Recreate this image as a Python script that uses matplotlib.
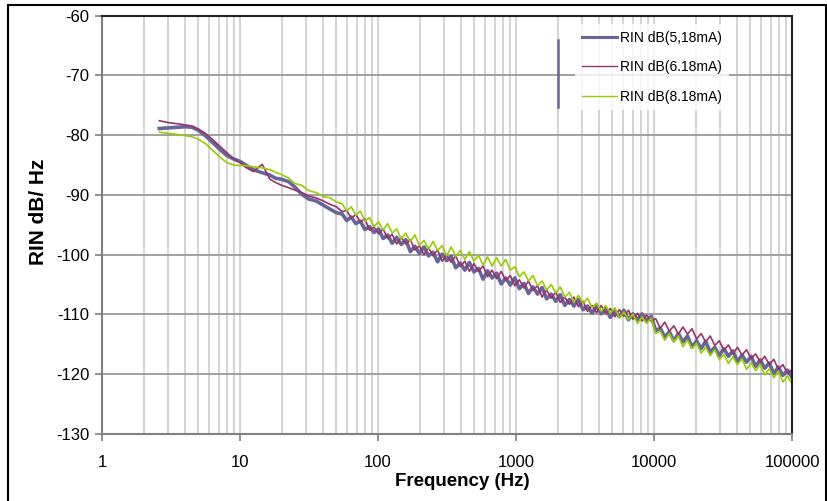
import numpy as np
import matplotlib
matplotlib.use("Agg")
import matplotlib.pyplot as plt
from matplotlib.lines import Line2D
from matplotlib.patches import Rectangle
from matplotlib.ticker import FixedLocator, LogLocator, NullFormatter

plt.rcParams['font.family'] = ['Liberation Sans', 'DejaVu Sans']

# --- data ---
# smooth low-frequency part (Hz)
freq_low = [2.6, 3.0, 3.5, 4.0, 4.5, 5.0, 5.6, 6.3, 7.0, 8.0, 9.0, 10, 11, 12.5,
            14.5, 16.5, 18, 20, 22.5, 25, 28, 31.5, 35.5, 40, 45, 50]
rin_518_low = [-78.9, -78.8, -78.7, -78.6, -78.7, -79.2, -80.1, -81.2, -82.2, -83.4,
               -84.0, -84.4, -85.0, -85.8, -86.3, -86.7, -87.2, -87.4, -87.8, -88.7,
               -89.9, -90.7, -91.0, -91.7, -92.4, -93.0]
rin_618_low = [-77.6, -77.9, -78.1, -78.3, -78.5, -79.0, -79.7, -80.7, -81.7, -82.9,
               -84.0, -84.6, -85.4, -86.1, -84.9, -87.4, -87.9, -88.4, -88.8, -89.2,
               -89.6, -90.2, -90.5, -91.0, -91.6, -92.0]
rin_818_low = [-79.5, -79.7, -79.9, -80.1, -80.3, -80.7, -81.4, -82.5, -83.5, -84.6,
               -85.0, -85.1, -85.1, -85.3, -85.5, -85.8, -86.2, -86.6, -87.2, -88.1,
               -88.4, -89.3, -89.6, -90.3, -90.5, -91.2]

# noisy part, sampled on a log grid from 55 Hz to 100 kHz
freq_high = np.logspace(np.log10(55), 5, 100)
rin_518_high = [
    -93.2, -94.3, -93.7, -94.8, -94.4, -95.8, -95.3, -96.3, -95.7, -97.3,
    -96.7, -98.1, -97.1, -98.3, -97.5, -99.5, -98.6, -99.8, -98.7, -100.2,
    -99.6, -101.2, -99.9, -101.0, -100.3, -102.2, -101.4, -102.6, -101.3, -102.9,
    -102.3, -104.1, -102.7, -103.9, -103.1, -104.9, -103.9, -105.1, -103.9, -105.7,
    -104.8, -106.5, -105.4, -106.6, -105.5, -107.4, -106.6, -107.8, -106.7, -108.5,
    -107.5, -108.6, -107.5, -109.2, -108.6, -109.8, -108.6, -109.9, -109.0, -110.5,
    -109.4, -110.4, -109.3, -110.9, -109.9, -110.9, -109.9, -111.1, -110.3, -112.7,
    -112.3, -113.8, -112.9, -114.4, -113.2, -114.6, -113.6, -115.5, -114.4, -115.7,
    -114.5, -116.3, -115.5, -116.9, -115.7, -117.0, -116.1, -117.9, -116.8, -118.0,
    -117.0, -118.7, -117.6, -119.0, -118.1, -119.9, -118.8, -120.2, -119.3, -120.5]
rin_618_high = [
    -92.8, -92.6, -93.9, -93.3, -94.5, -94.0, -95.9, -95.4, -96.5, -95.7,
    -97.3, -96.6, -98.2, -97.1, -98.2, -97.5, -99.2, -98.5, -100.0, -98.8,
    -100.2, -99.2, -101.1, -100.1, -101.3, -100.2, -102.0, -101.1, -102.8, -101.5,
    -102.8, -101.9, -103.7, -102.6, -104.0, -102.8, -104.3, -103.5, -105.2, -104.2,
    -105.6, -104.4, -106.0, -105.2, -107.1, -105.9, -107.3, -106.3, -108.0, -107.1,
    -108.3, -107.1, -108.7, -107.8, -109.5, -108.5, -109.7, -108.5, -109.9, -109.0,
    -110.4, -109.2, -110.3, -109.3, -110.8, -109.8, -111.1, -110.1, -111.1, -110.7,
    -112.3, -111.3, -112.8, -111.9, -113.3, -112.1, -113.3, -112.4, -114.1, -113.2,
    -114.6, -113.6, -115.2, -114.4, -116.0, -115.1, -116.6, -115.5, -116.8, -115.9,
    -117.4, -116.6, -118.0, -117.0, -118.4, -117.5, -119.2, -118.4, -119.9, -119.2]
rin_818_high = [
    -91.5, -92.7, -92.0, -93.4, -92.7, -94.4, -93.8, -95.3, -94.5, -95.9,
    -94.8, -96.4, -95.7, -97.4, -96.4, -97.8, -96.7, -98.5, -97.6, -99.1,
    -97.8, -99.3, -98.5, -100.2, -98.7, -100.3, -99.3, -100.8, -99.5, -101.1,
    -100.1, -101.7, -100.4, -101.9, -100.5, -101.9, -100.8, -102.6, -102.0, -103.7,
    -102.9, -104.4, -103.5, -105.2, -104.4, -105.9, -105.0, -106.4, -105.4, -107.1,
    -106.3, -107.9, -106.8, -108.2, -107.3, -108.9, -108.1, -109.5, -108.5, -109.8,
    -108.9, -110.6, -109.6, -110.9, -110.0, -111.5, -110.4, -111.5, -110.6, -113.2,
    -112.8, -114.3, -113.2, -114.6, -113.6, -115.4, -114.3, -115.7, -114.8, -116.5,
    -115.5, -116.9, -115.9, -117.6, -116.7, -118.2, -117.1, -118.4, -117.4, -119.2,
    -118.1, -119.4, -118.4, -120.1, -119.1, -120.6, -119.5, -121.3, -120.3, -121.6]

labels = ["RIN dB(5,18mA)", "RIN dB(6.18mA)", "RIN dB(8.18mA)"]
colors = ["#66669c", "#993366", "#99cc00"]
widths = [2.6, 1.2, 1.2]
x_ticks = [1, 10, 100, 1000, 10000, 100000]
x_ticklabels = ["1", "10", "100", "1000", "10000", "100000"]
y_ticks = [-130, -120, -110, -100, -90, -80, -70, -60]

freq = list(freq_low) + list(freq_high)
series = [rin_518_low + rin_518_high,
          rin_618_low + rin_618_high,
          rin_818_low + rin_818_high]

# --- figure ---
fig = plt.figure(figsize=(8.27, 5.01), dpi=100)
ax = fig.add_axes([102 / 827, 1 - 434 / 501, 690 / 827, (434 - 15.5) / 501])

for y, lab, c, w in zip(series, labels, colors, widths):
    ax.plot(freq, y, color=c, lw=w, label=lab, solid_joinstyle='round')

ax.set_xscale('log')
ax.set_xlim(1, 100000)
ax.set_ylim(-130, -60)
ax.xaxis.set_major_locator(FixedLocator(x_ticks))
ax.set_xticklabels(x_ticklabels)
ax.xaxis.set_minor_locator(LogLocator(base=10, subs=np.arange(2, 10), numticks=20))
ax.xaxis.set_minor_formatter(NullFormatter())
ax.set_yticks(y_ticks)
ax.set_yticklabels([str(v) for v in y_ticks])

ax.grid(True, which='major', axis='x', color='#d4d4d4', lw=1.4, zorder=0)
ax.grid(True, which='minor', axis='x', color='#d4d4d4', lw=1.4, zorder=0)
ax.grid(True, which='major', axis='y', color='#a0a0a0', lw=1.4, zorder=0)
ax.set_axisbelow(True)

ax.tick_params(axis='both', which='major', direction='out', length=5, width=1.2,
               color='#808080', labelsize=12, labelcolor='black')
ax.tick_params(axis='x', which='major', pad=10)
ax.tick_params(axis='y', which='major', pad=4)
ax.tick_params(axis='x', which='minor', length=0)

for side in ['left', 'bottom']:
    ax.spines[side].set_color('#808080')
    ax.spines[side].set_linewidth(1.5)
for side in ['top', 'right']:
    ax.spines[side].set_color('#222222')
    ax.spines[side].set_linewidth(1.5)

leg = ax.legend(loc='upper left', bbox_to_anchor=(575 / 827, 1 - 24 / 501),
                bbox_transform=fig.transFigure, fontsize=10, frameon=True,
                fancybox=False, borderpad=0.5, borderaxespad=0,
                handlelength=2.5, handletextpad=0.25, labelspacing=1.1)
leg.get_frame().set_facecolor('white')
leg.get_frame().set_linewidth(0)
for line in leg.get_lines():
    line.set_linewidth(2.2 if line.get_color() == colors[0] else 1.0)

# stray vertical mark beside the legend
fig.add_artist(Line2D([558 / 827, 558 / 827], [1 - 40 / 501, 1 - 107 / 501],
                      color=colors[0], lw=1.8))

fig.text(462 / 827, 1 - 482 / 501, "Frequency (Hz)", ha='center', va='center',
         fontsize=13.5, fontweight='bold')
fig.text(38 / 827, 1 - 212 / 501, "RIN dB/ Hz", ha='center', va='center',
         rotation=90, fontsize=15, fontweight='bold')

# outer chart-area border
fig.add_artist(Rectangle((8 / 827, -0.02), 818 / 827, 1.02 - 5 / 501,
                         transform=fig.transFigure, fill=False, ec='black', lw=1.5))

fig.savefig('out.png', dpi=100)
